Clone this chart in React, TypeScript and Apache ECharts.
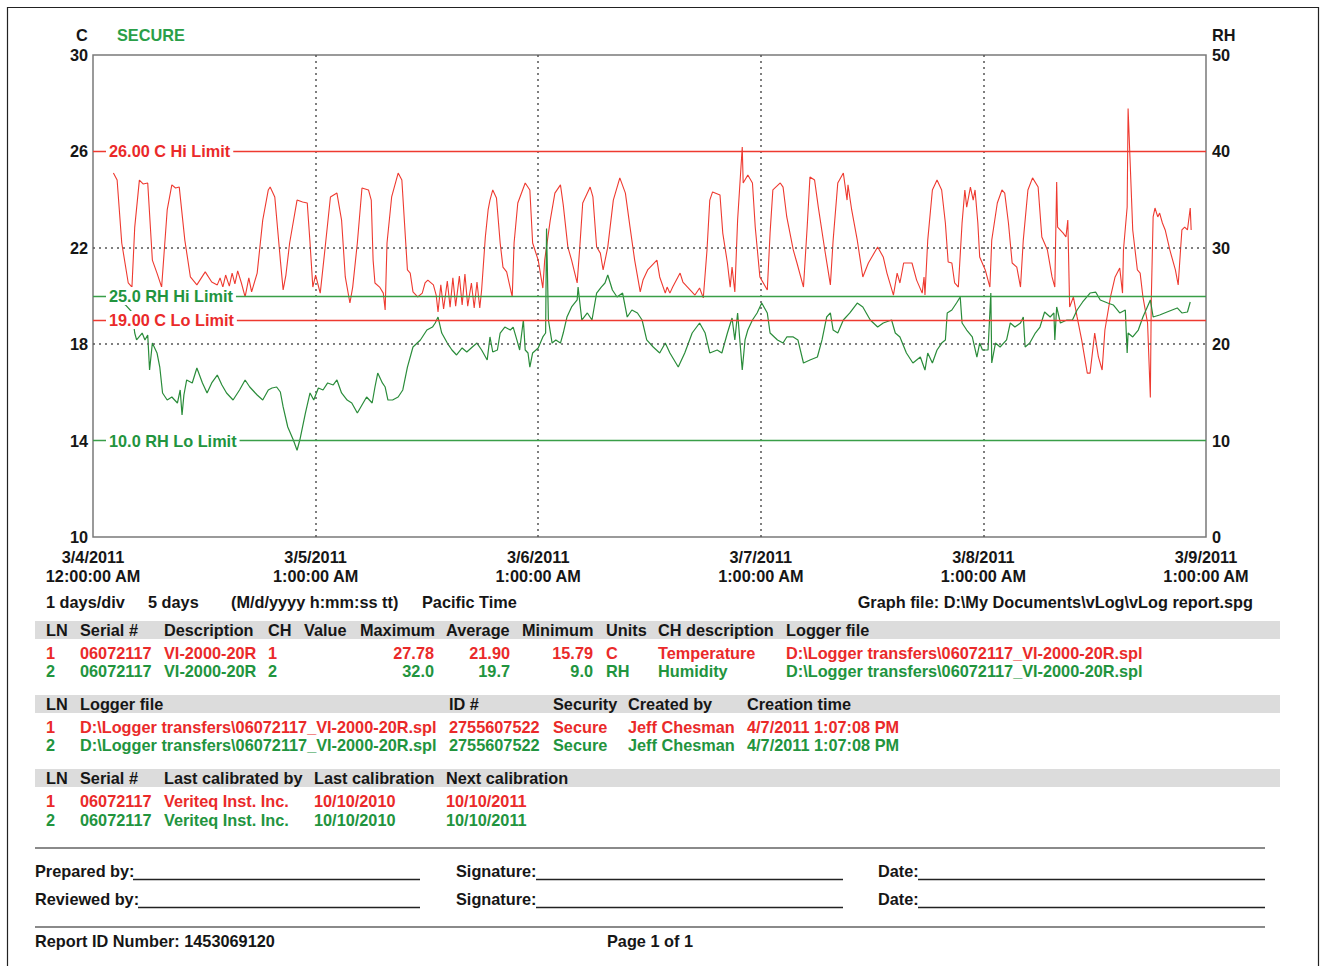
import React, { useEffect, useRef } from "react";
import * as echarts from "echarts";

// ---------- data ----------
const xTickDates = ["3/4/2011", "3/5/2011", "3/6/2011", "3/7/2011", "3/8/2011", "3/9/2011"];
const xTickTimes = ["12:00:00 AM", "1:00:00 AM", "1:00:00 AM", "1:00:00 AM", "1:00:00 AM", "1:00:00 AM"];
const tempGridValues = [18, 22];

// [hours since start, °C]
const tempSeries: [number, number][] = [
  [2.2,25.10],[2.6,24.81],[3.1,22.20],[3.8,20.54],[4.2,20.37],[4.5,22.86],[5.0,24.81],[5.4,24.65],[5.9,24.69],[6.4,21.49],[6.9,20.95],[7.4,20.37],[8.0,23.57],[8.5,24.61],[8.9,24.48],[9.3,24.52],[9.9,22.32],[10.5,20.79],[11.2,20.46],[12.1,21.00],[12.8,20.58],[13.4,20.46],[13.7,20.75],[14.0,20.37],[14.3,20.87],[14.7,20.41],[15.0,20.95],[15.3,20.50],[15.6,21.04],[16.0,20.54],[16.4,19.96],[16.8,20.75],[17.1,20.17],[17.7,20.95],[18.3,23.15],[18.9,24.40],[19.1,24.52],[19.6,24.11],[20.2,21.49],[20.5,20.25],[20.8,20.87],[21.2,22.20],[22.0,23.98],[22.6,23.90],[23.1,23.86],[23.4,22.20],[23.7,20.37],[24.0,20.87],[24.5,20.12],[25.0,21.91],[25.6,24.11],[26.3,24.27],[26.8,23.15],[27.2,20.79],[27.7,19.71],[28.0,20.37],[28.5,22.20],[29.0,24.48],[29.7,24.40],[30.0,23.98],[30.2,21.49],[30.4,20.54],[30.9,20.37],[31.3,20.12],[31.5,19.42],[31.7,22.20],[32.2,24.11],[32.9,25.10],[33.3,24.81],[33.9,21.08],[34.2,20.95],[34.5,20.17],[35.0,19.96],[35.5,20.12],[35.8,20.54],[36.1,20.66],[36.7,20.46],[37.0,20.04],[37.2,19.34],[37.5,20.46],[37.8,19.46],[38.2,20.62],[38.5,19.54],[38.8,20.75],[39.1,19.58],[39.5,20.83],[39.8,19.63],[40.1,20.91],[40.4,19.58],[40.8,20.54],[41.1,19.50],[41.4,20.58],[41.7,19.50],[41.9,20.25],[42.3,22.45],[42.6,23.57],[42.8,23.98],[43.1,24.40],[43.5,24.07],[43.9,22.20],[44.2,21.20],[44.6,21.00],[45.2,19.96],[45.4,22.20],[45.8,23.86],[46.6,24.69],[47.1,24.40],[47.4,22.20],[48.0,21.49],[48.5,20.33],[48.7,21.49],[49.3,23.15],[49.8,24.27],[50.4,24.61],[50.7,23.78],[51.2,22.03],[51.6,21.49],[52.2,20.54],[52.5,22.12],[52.8,23.86],[53.6,24.52],[53.9,24.11],[54.3,22.03],[54.7,21.78],[55.0,21.08],[55.5,22.03],[56.1,23.98],[56.8,24.90],[57.4,24.27],[57.9,22.86],[58.4,21.49],[59.0,20.17],[59.3,20.66],[59.8,21.08],[60.8,21.49],[61.1,20.79],[61.7,20.12],[61.9,20.37],[62.2,20.12],[62.5,20.37],[62.9,20.66],[63.3,20.95],[63.6,20.58],[64.1,20.37],[64.9,20.04],[65.4,20.33],[65.8,19.92],[66.2,21.91],[66.5,23.98],[66.8,24.32],[67.6,24.19],[67.9,22.61],[68.4,21.37],[68.7,20.37],[68.9,21.20],[69.2,20.17],[69.5,23.15],[70.0,26.18],[70.1,24.69],[70.6,25.02],[71.1,24.69],[71.4,22.86],[71.9,20.79],[72.7,20.25],[73.0,22.61],[73.3,24.40],[74.1,24.69],[74.4,24.52],[74.8,23.28],[75.5,21.91],[75.9,21.37],[76.6,20.37],[77.0,22.86],[77.3,24.94],[77.8,24.81],[78.2,23.69],[78.9,21.91],[79.5,20.46],[79.8,22.32],[80.3,24.69],[80.9,25.10],[81.3,23.98],[81.4,24.61],[81.8,23.57],[82.4,22.32],[83.0,20.79],[83.6,21.37],[84.6,22.03],[85.2,21.62],[85.6,20.95],[86.3,20.04],[86.7,20.95],[87.0,20.54],[87.4,21.37],[88.3,21.37],[88.8,20.66],[89.4,20.12],[89.6,20.79],[89.7,20.04],[90.0,22.32],[90.5,24.40],[91.0,24.81],[91.5,24.40],[91.9,23.03],[92.2,21.41],[92.6,21.37],[92.9,20.54],[93.3,20.37],[93.7,23.03],[94.0,24.40],[94.2,23.69],[94.6,24.52],[94.9,23.98],[95.1,24.40],[95.4,23.03],[95.6,21.62],[96.2,21.08],[96.7,20.37],[96.9,22.32],[97.5,23.86],[98.0,24.40],[98.3,24.27],[98.7,23.03],[99.1,21.37],[99.6,21.20],[100.0,20.37],[100.3,22.32],[100.8,24.40],[101.3,24.90],[101.9,24.52],[102.3,22.45],[102.9,21.91],[103.4,20.79],[103.7,20.37],[103.9,24.73],[104.0,22.86],[104.6,22.61],[104.9,22.45],[105.1,23.15],[105.3,19.54],[105.7,19.96],[106.1,19.13],[106.6,18.17],[107.2,16.80],[107.5,16.80],[108.0,18.46],[108.4,17.47],[108.8,16.93],[109.1,18.59],[109.7,19.96],[110.2,20.79],[110.7,21.16],[111.0,20.12],[111.1,21.91],[111.5,23.69],[111.6,27.78],[111.8,25.77],[112.1,22.74],[112.6,21.08],[112.9,20.95],[113.2,19.96],[113.7,18.88],[114.0,15.79],[114.1,19.83],[114.3,23.28],[114.5,23.65],[114.8,23.28],[115.0,23.44],[115.3,23.03],[115.6,22.74],[116.1,21.91],[116.7,21.08],[117.0,20.46],[117.4,22.74],[117.7,22.86],[118.0,22.74],[118.3,23.65],[118.4,22.74]
];

// [hours since start, %RH]
const rhSeries: [number, number][] = [
  [2.7,24.59],[3.5,24.07],[4.2,23.34],[4.5,21.16],[4.7,20.44],[5.3,21.16],[5.6,20.44],[5.9,20.95],[6.1,17.32],[6.4,20.12],[6.9,19.09],[7.2,17.63],[7.5,14.94],[8.0,14.21],[8.5,14.52],[9.1,13.90],[9.4,15.25],[9.6,12.66],[9.8,14.73],[10.1,16.29],[10.7,15.98],[11.2,17.53],[11.8,15.98],[12.3,14.94],[12.8,15.98],[13.4,16.80],[13.9,15.77],[14.4,14.94],[15.1,14.21],[15.8,15.25],[16.4,16.29],[16.9,15.56],[17.7,14.73],[18.3,14.21],[18.9,15.25],[19.3,15.46],[19.8,15.56],[20.2,15.04],[20.5,13.49],[21.0,11.41],[21.6,10.06],[22.0,9.00],[22.3,10.06],[22.9,12.86],[23.4,14.94],[23.8,14.21],[24.3,15.46],[24.8,15.25],[25.3,15.98],[25.9,15.77],[26.3,16.29],[26.8,14.94],[27.4,14.21],[27.9,13.90],[28.5,12.86],[29.0,13.69],[29.5,14.52],[30.1,13.90],[30.4,15.56],[30.7,17.01],[31.2,15.98],[31.5,15.56],[31.8,14.21],[32.3,14.21],[32.9,14.52],[33.4,15.25],[33.9,17.63],[34.5,19.71],[35.3,20.44],[36.0,21.47],[36.6,21.78],[36.9,22.20],[37.2,22.82],[37.6,21.16],[38.2,20.12],[38.7,19.40],[39.2,18.88],[39.8,19.61],[40.3,19.19],[40.9,19.71],[41.4,20.12],[41.9,19.40],[42.5,18.36],[42.8,20.75],[43.1,19.19],[43.6,19.40],[43.9,21.16],[44.4,21.78],[45.0,21.47],[45.3,21.78],[45.7,20.44],[46.0,19.40],[46.4,22.51],[46.6,19.40],[46.9,19.09],[47.1,17.63],[47.4,19.09],[48.0,19.61],[48.5,20.75],[48.8,21.16],[48.9,32.00],[49.1,22.51],[49.5,20.12],[49.9,20.44],[50.4,20.12],[50.7,21.16],[51.1,22.82],[51.6,23.86],[52.2,24.59],[52.3,25.93],[52.7,22.51],[53.3,23.24],[53.8,22.51],[54.3,25.31],[54.8,25.93],[55.2,26.35],[55.5,27.18],[56.0,25.62],[56.5,24.90],[57.1,25.31],[57.6,22.82],[58.1,23.55],[58.7,23.24],[59.2,22.51],[59.7,20.44],[60.4,19.71],[61.1,19.09],[61.7,20.12],[62.2,19.09],[63.1,17.63],[63.8,19.09],[64.6,21.16],[65.4,22.20],[66.0,21.16],[66.5,19.09],[67.3,19.40],[67.8,19.09],[68.4,21.16],[68.9,22.72],[69.2,20.44],[69.5,23.24],[69.8,19.71],[70.0,17.32],[70.3,20.44],[70.6,21.47],[71.1,22.51],[71.6,23.24],[72.1,24.27],[72.7,23.24],[73.0,21.16],[73.8,20.44],[74.4,20.12],[74.8,20.75],[75.5,20.75],[76.0,20.44],[76.6,18.05],[77.3,18.36],[78.1,18.67],[78.6,20.44],[79.1,22.82],[79.5,23.24],[79.8,21.47],[80.3,21.16],[80.9,22.51],[81.6,23.24],[82.4,24.27],[83.0,23.86],[83.8,22.51],[84.6,21.78],[85.2,22.20],[86.1,22.51],[86.5,21.16],[87.0,20.75],[87.7,19.09],[88.4,18.05],[89.2,18.67],[89.7,17.32],[90.0,19.09],[90.5,18.05],[91.0,19.40],[91.5,20.12],[91.9,20.44],[92.1,23.24],[92.6,23.55],[93.1,24.27],[93.5,24.90],[93.7,22.20],[94.2,21.47],[94.8,20.75],[95.3,18.67],[95.6,20.12],[95.9,19.40],[96.5,19.40],[96.8,25.31],[96.9,18.05],[97.3,20.12],[97.8,19.71],[98.5,20.44],[98.9,22.20],[99.4,21.78],[100.0,22.20],[100.3,22.82],[100.5,19.71],[101.0,20.12],[101.6,21.16],[102.1,21.78],[102.6,23.34],[103.2,22.82],[103.6,23.24],[103.7,20.44],[103.9,23.86],[104.3,22.20],[105.0,22.51],[105.6,22.51],[106.1,23.55],[106.7,24.38],[107.5,25.31],[108.1,25.41],[108.6,24.59],[109.4,24.27],[110.0,24.07],[110.7,23.24],[111.3,23.55],[111.5,19.09],[111.6,21.16],[112.1,20.75],[112.7,21.47],[113.2,22.82],[114.0,24.59],[114.3,22.82],[115.0,23.03],[115.8,23.34],[116.9,23.76],[117.4,23.24],[118.0,23.34],[118.3,24.38]
];

const tempLimits = [
  { value: 26, label: "26.00 C Hi Limit" },
  { value: 19, label: "19.00 C Lo Limit" },
];
const rhLimits = [
  { value: 25, label: "25.0 RH Hi Limit" },
  { value: 10, label: "10.0 RH Lo Limit" },
];

// table 1
const t1Header = ["LN", "Serial #", "Description", "CH", "Value", "Maximum", "Average", "Minimum", "Units", "CH description", "Logger file"];
const lnIds = ["1", "2"];
const serials = ["06072117", "06072117"];
const descriptions = ["VI-2000-20R", "VI-2000-20R"];
const channelNums = ["1", "2"];
const maximums = ["27.78", "32.0"];
const averages = ["21.90", "19.7"];
const minimums = ["15.79", "9.0"];
const units = ["C", "RH"];
const chDescriptions = ["Temperature", "Humidity"];
const loggerFiles = ["D:\\Logger transfers\\06072117_VI-2000-20R.spl", "D:\\Logger transfers\\06072117_VI-2000-20R.spl"];
// table 2
const t2Header = ["LN", "Logger file", "ID #", "Security", "Created by", "Creation time"];
const idNumbers = ["2755607522", "2755607522"];
const security = ["Secure", "Secure"];
const createdBy = ["Jeff Chesman", "Jeff Chesman"];
const creationTimes = ["4/7/2011 1:07:08 PM", "4/7/2011 1:07:08 PM"];
// table 3
const t3Header = ["LN", "Serial #", "Last calibrated by", "Last calibration", "Next calibration"];
const calibratedBy = ["Veriteq Inst. Inc.", "Veriteq Inst. Inc."];
const lastCal = ["10/10/2010", "10/10/2010"];
const nextCal = ["10/10/2011", "10/10/2011"];

// ---------- style ----------
const FONT = '"Liberation Sans", Arial, Helvetica, sans-serif';
const FSIZE = 16.3;
const RED = "#ea2a2a";
const GREEN = "#22943e";
const RED_LINE = "#ee3a30";
const GREEN_LINE = "#2a8c3a";
const BLACK = "#161616";

function txt(x: number, y: number, text: string, fill: string, align: string = "left", extra: any = {}) {
  return {
    type: "text",
    z: 100,
    style: {
      x, y, text, fill,
      font: `bold ${FSIZE}px ${FONT}`,
      align, verticalAlign: "middle",
      textAlign: align, textVerticalAlign: "middle",
      ...extra,
    },
  };
}
function hline(x1: number, x2: number, y: number, stroke: string, w: number) {
  return { type: "line", z: 90, shape: { x1, y1: y, x2, y2: y }, style: { stroke, lineWidth: w } };
}

export default function App() {
  const ref = useRef<HTMLDivElement>(null);
  useEffect(() => {
    document.body.style.margin = "0";
    if (!ref.current) return;
    const chart = echarts.init(ref.current, null, { renderer: "svg" });
    const dotted = { type: [2, 4] as any, color: "#555", width: 1.5 };
    const option: any = {
      animation: false,
      backgroundColor: "#fff",
      grid: { left: 93, top: 55, width: 1113, height: 482, show: true, borderColor: "#7a7a7a", borderWidth: 1.5, backgroundColor: "transparent" },
      xAxis: {
        type: "value", min: 0, max: 120, interval: 24,
        axisLine: { show: false }, axisTick: { show: false },
        splitLine: { show: true, showMinLine: false, showMaxLine: false, lineStyle: dotted },
        axisLabel: {
          showMinLabel: true, showMaxLabel: true,
          fontFamily: FONT, fontSize: FSIZE, fontWeight: "bold", color: BLACK, lineHeight: 19, margin: 10,
          formatter: (v: number) => {
            const i = Math.round(v / 24);
            return `${xTickDates[i]}\n${xTickTimes[i]}`;
          },
        },
      },
      yAxis: [
        {
          type: "value", min: 10, max: 30, interval: 4, position: "left",
          axisLine: { show: false }, axisTick: { show: false },
          splitLine: { show: false },
          axisLabel: { fontFamily: FONT, fontSize: FSIZE, fontWeight: "bold", color: BLACK, margin: 5 },
        },
        {
          type: "value", min: 0, max: 50, interval: 10, position: "right",
          axisLine: { show: false }, axisTick: { show: false }, splitLine: { show: false },
          axisLabel: { fontFamily: FONT, fontSize: FSIZE, fontWeight: "bold", color: BLACK, margin: 6 },
        },
      ],
      series: [
        {
          type: "line", name: "Temperature", yAxisIndex: 0, data: tempSeries, showSymbol: false, symbol: "none",
          lineStyle: { color: RED_LINE, width: 1.1 }, z: 3,
          markLine: {
            silent: true, symbol: "none", label: { show: false },
            lineStyle: { color: RED_LINE, width: 1.3, type: "solid" },
            data: [
              ...tempGridValues.map((v) => ({ yAxis: v, lineStyle: dotted })),
              ...tempLimits.map((l) => ({ yAxis: l.value })),
            ],
          },
        },
        {
          type: "line", name: "Humidity", yAxisIndex: 1, data: rhSeries, showSymbol: false, symbol: "none",
          lineStyle: { color: GREEN_LINE, width: 1.2 }, z: 4,
          markLine: {
            silent: true, symbol: "none", label: { show: false },
            lineStyle: { color: "#3a9e48", width: 1.3, type: "solid" },
            data: rhLimits.map((l) => ({ yAxis: l.value })),
          },
        },
      ],
    };
    chart.setOption(option);

    const g: any[] = [];
    g.push({ type: "rect", z: 80, shape: { x: 7.5, y: 7.5, width: 1311, height: 975 }, style: { fill: "none", stroke: "#222", lineWidth: 1.2 } });
    g.push(txt(82, 35, "C", BLACK, "center"));
    g.push(txt(117, 35, "SECURE", "#2a9f48"));
    g.push(txt(1212, 35, "RH", BLACK));
    tempLimits.forEach((l) => {
      const y = chart.convertToPixel({ yAxisIndex: 0 }, l.value) as number;
      g.push(txt(106, y, l.label, RED, "left", { backgroundColor: "#fff", padding: [1, 3, 1, 3] }));
    });
    rhLimits.forEach((l) => {
      const y = chart.convertToPixel({ yAxisIndex: 1 }, l.value) as number;
      g.push(txt(106, y, l.label, GREEN, "left", { backgroundColor: "#fff", padding: [1, 3, 1, 3] }));
    });
    g.push(txt(46, 602, "1 days/div", BLACK));
    g.push(txt(148, 602, "5 days", BLACK));
    g.push(txt(231, 602, "(M/d/yyyy h:mm:ss tt)", BLACK));
    g.push(txt(422, 602, "Pacific Time", BLACK));
    g.push(txt(1253, 602, "Graph file: D:\\My Documents\\vLog\\vLog report.spg", BLACK, "right"));

    const barX = 35, barW = 1245, barH = 18;
    [621, 695, 769].forEach((y) => g.push({ type: "rect", z: 85, shape: { x: barX, y, width: barW, height: barH }, style: { fill: "#dcdcdc" } }));

    const colors = [RED, GREEN];
    const t1x = [46, 80, 164, 268, 304, 360, 446, 522, 606, 658, 786];
    t1Header.forEach((h, i) => g.push(txt(t1x[i], 630, h, BLACK)));
    const t1y = [653, 671];
    [0, 1].forEach((r) => {
      const c = colors[r], y = t1y[r];
      g.push(txt(46, y, lnIds[r], c));
      g.push(txt(80, y, serials[r], c));
      g.push(txt(164, y, descriptions[r], c));
      g.push(txt(268, y, channelNums[r], c));
      g.push(txt(434, y, maximums[r], c, "right"));
      g.push(txt(510, y, averages[r], c, "right"));
      g.push(txt(593, y, minimums[r], c, "right"));
      g.push(txt(606, y, units[r], c));
      g.push(txt(658, y, chDescriptions[r], c));
      g.push(txt(786, y, loggerFiles[r], c));
    });

    const t2x = [46, 80, 449, 553, 628, 747];
    t2Header.forEach((h, i) => g.push(txt(t2x[i], 704, h, BLACK)));
    const t2y = [727, 745];
    [0, 1].forEach((r) => {
      const c = colors[r], y = t2y[r];
      g.push(txt(46, y, lnIds[r], c));
      g.push(txt(80, y, loggerFiles[r], c));
      g.push(txt(449, y, idNumbers[r], c));
      g.push(txt(553, y, security[r], c));
      g.push(txt(628, y, createdBy[r], c));
      g.push(txt(747, y, creationTimes[r], c));
    });

    const t3x = [46, 80, 164, 314, 446];
    t3Header.forEach((h, i) => g.push(txt(t3x[i], 778, h, BLACK)));
    const t3y = [801, 820];
    [0, 1].forEach((r) => {
      const c = colors[r], y = t3y[r];
      g.push(txt(46, y, lnIds[r], c));
      g.push(txt(80, y, serials[r], c));
      g.push(txt(164, y, calibratedBy[r], c));
      g.push(txt(314, y, lastCal[r], c));
      g.push(txt(446, y, nextCal[r], c));
    });

    g.push(hline(35, 1265, 848, "#8a8a8a", 2));
    g.push(hline(35, 1265, 927, "#8a8a8a", 2));
    g.push(txt(35, 871, "Prepared by:", BLACK));
    g.push(hline(133, 420, 879.5, "#222", 1.3));
    g.push(txt(35, 899, "Reviewed by:", BLACK));
    g.push(hline(138, 420, 907.5, "#222", 1.3));
    g.push(txt(456, 871, "Signature:", BLACK));
    g.push(hline(536, 843, 879.5, "#222", 1.3));
    g.push(txt(456, 899, "Signature:", BLACK));
    g.push(hline(536, 843, 907.5, "#222", 1.3));
    g.push(txt(878, 871, "Date:", BLACK));
    g.push(hline(918, 1265, 879.5, "#222", 1.3));
    g.push(txt(878, 899, "Date:", BLACK));
    g.push(hline(918, 1265, 907.5, "#222", 1.3));
    g.push(txt(35, 941, "Report ID Number: 1453069120", BLACK));
    g.push(txt(607, 941, "Page 1 of 1", BLACK));

    chart.setOption({ graphic: g });
    return () => chart.dispose();
  }, []);
  return <div ref={ref} style={{ width: 1320, height: 966 }} />;
}
